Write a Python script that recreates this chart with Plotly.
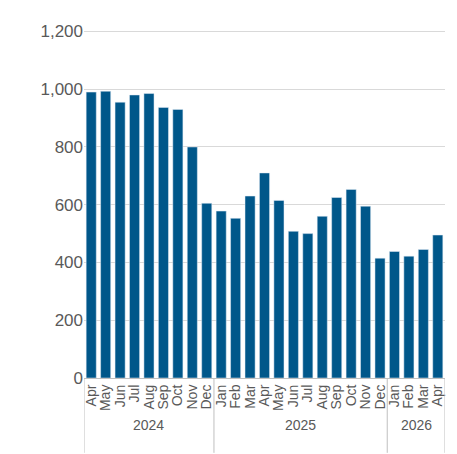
import plotly.graph_objects as go

years = ["2024", "2025", "2026"]
year_counts = [9, 12, 4]
months = ["Apr", "May", "Jun", "Jul", "Aug", "Sep", "Oct", "Nov", "Dec",
          "Jan", "Feb", "Mar", "Apr", "May", "Jun", "Jul", "Aug", "Sep", "Oct", "Nov", "Dec",
          "Jan", "Feb", "Mar", "Apr"]
values = [990, 993, 955, 980, 985, 937, 930, 800, 605,
          578, 553, 630, 710, 615, 508, 500, 560, 625, 653, 595, 415,
          438, 422, 445, 495]

idx = list(range(len(months)))
fig = go.Figure(go.Bar(x=idx, y=values, marker_color="#00578a", width=0.7))

line = dict(color="#bfbfbf", width=1)
start = 0
bounds = [-0.5]
for y, n in zip(years, year_counts):
    fig.add_annotation(x=start + (n - 1) / 2, y=-0.165, yref="paper", text=y,
                       showarrow=False, font=dict(size=14, color="#595959"))
    start += n
    bounds.append(start - 0.5)
for b in bounds:
    fig.add_shape(type="line", x0=b, x1=b, y0=0, y1=-0.215, yref="paper", line=line)

fig.update_layout(
    width=457, height=454, plot_bgcolor="white", paper_bgcolor="white",
    margin=dict(l=76, r=20, t=22, b=84), showlegend=False,
    font=dict(family="Liberation Sans, Arial", color="#595959", size=14),
)
fig.update_yaxes(range=[0, 1205], dtick=200, tickformat=",", gridcolor="#d9d9d9",
                 tickfont=dict(size=17), ticks="", zeroline=False)
fig.update_xaxes(range=[-0.5, 24.5], tickmode="array", tickvals=idx, ticktext=months,
                 tickangle=-90, linecolor="#bfbfbf", showline=True, showgrid=False,
                 tickfont=dict(size=14))
fig.write_html("out.html")
